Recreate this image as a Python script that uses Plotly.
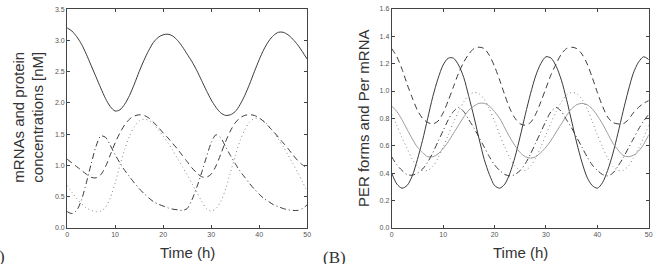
import plotly.graph_objects as go

t = list(range(0, 51))

# Panel A: mRNAs and protein concentrations [nM]
a_solid = [3.20, 3.15, 3.06, 2.94, 2.78, 2.60, 2.42, 2.24, 2.07, 1.94,
           1.87, 1.89, 1.98, 2.12, 2.30, 2.50, 2.68, 2.84, 2.97, 3.05,
           3.09, 3.10, 3.07, 3.00, 2.90, 2.78, 2.66, 2.52, 2.36, 2.20,
           2.05, 1.93, 1.84, 1.80, 1.81, 1.86, 1.97, 2.12, 2.30, 2.50,
           2.69, 2.86, 2.99, 3.08, 3.13, 3.13, 3.09, 3.02, 2.93, 2.82, 2.70]
a_dash = [1.10, 1.04, 0.98, 0.92, 0.86, 0.81, 0.80, 0.85, 0.98, 1.17,
          1.36, 1.52, 1.65, 1.74, 1.79, 1.81, 1.80, 1.76, 1.69, 1.61,
          1.52, 1.44, 1.35, 1.26, 1.16, 1.06, 0.96, 0.88, 0.82, 0.81,
          0.86, 0.99, 1.18, 1.38, 1.55, 1.68, 1.76, 1.80, 1.81, 1.80,
          1.76, 1.70, 1.62, 1.54, 1.45, 1.36, 1.27, 1.17, 1.08, 1.01, 0.96]
a_dashdot = [0.26, 0.23, 0.28, 0.45, 0.72, 1.02, 1.30, 1.47, 1.45, 1.32,
             1.17, 1.04, 0.92, 0.82, 0.72, 0.63, 0.55, 0.48, 0.42, 0.38,
             0.35, 0.32, 0.30, 0.29, 0.28, 0.31, 0.45, 0.65, 0.88, 1.13,
             1.36, 1.49, 1.44, 1.30, 1.16, 1.03, 0.91, 0.81, 0.71, 0.62,
             0.54, 0.47, 0.42, 0.37, 0.34, 0.31, 0.29, 0.28, 0.28, 0.31, 0.37]
a_dot = [0.68, 0.57, 0.47, 0.39, 0.32, 0.28, 0.26, 0.27, 0.33, 0.48,
         0.72, 1.00, 1.26, 1.47, 1.62, 1.71, 1.74, 1.72, 1.66, 1.57,
         1.47, 1.36, 1.24, 1.11, 0.98, 0.85, 0.71, 0.57, 0.43, 0.31,
         0.27, 0.31, 0.42, 0.62, 0.88, 1.15, 1.39, 1.57, 1.69, 1.75,
         1.75, 1.71, 1.63, 1.53, 1.42, 1.30, 1.17, 1.03, 0.89, 0.74, 0.58]

# Panel B: PER forms and Per mRNA
b_solid = [0.40, 0.32, 0.29, 0.31, 0.38, 0.50, 0.64, 0.80, 0.96, 1.09,
           1.19, 1.24, 1.24, 1.19, 1.10, 0.96, 0.81, 0.65, 0.50, 0.39,
           0.31, 0.29, 0.32, 0.40, 0.52, 0.67, 0.83, 0.98, 1.11, 1.20,
           1.25, 1.24, 1.18, 1.08, 0.94, 0.78, 0.62, 0.48, 0.37, 0.31,
           0.29, 0.33, 0.42, 0.54, 0.69, 0.85, 1.00, 1.13, 1.21, 1.25, 1.23]
b_dash = [1.31, 1.25, 1.16, 1.05, 0.95, 0.86, 0.80, 0.77, 0.76, 0.78,
          0.84, 0.93, 1.03, 1.13, 1.21, 1.27, 1.31, 1.32, 1.31, 1.26,
          1.18, 1.08, 0.97, 0.87, 0.80, 0.76, 0.75, 0.77, 0.83, 0.92,
          1.02, 1.12, 1.20, 1.27, 1.31, 1.32, 1.31, 1.27, 1.20, 1.10,
          0.99, 0.89, 0.81, 0.77, 0.76, 0.76, 0.79, 0.84, 0.88, 0.91, 0.93]
b_gray = [0.89, 0.85, 0.79, 0.72, 0.65, 0.59, 0.55, 0.52, 0.52, 0.54,
          0.58, 0.63, 0.69, 0.75, 0.81, 0.86, 0.89, 0.91, 0.91, 0.89,
          0.85, 0.80, 0.73, 0.66, 0.60, 0.55, 0.52, 0.51, 0.52, 0.55,
          0.59, 0.64, 0.70, 0.76, 0.82, 0.87, 0.90, 0.91, 0.90, 0.87,
          0.82, 0.76, 0.69, 0.62, 0.57, 0.53, 0.52, 0.53, 0.56, 0.61, 0.68]
b_dashdot = [0.52, 0.46, 0.42, 0.39, 0.385, 0.40, 0.43, 0.48, 0.55, 0.63,
             0.71, 0.79, 0.85, 0.88, 0.85, 0.79, 0.73, 0.66, 0.59, 0.52,
             0.46, 0.42, 0.39, 0.38, 0.39, 0.42, 0.47, 0.54, 0.62, 0.70,
             0.78, 0.85, 0.88, 0.85, 0.79, 0.73, 0.66, 0.59, 0.52, 0.46,
             0.42, 0.39, 0.38, 0.40, 0.45, 0.51, 0.58, 0.65, 0.72, 0.78, 0.83]
b_dot = [0.83, 0.75, 0.66, 0.58, 0.50, 0.45, 0.42, 0.42, 0.45, 0.51,
         0.59, 0.68, 0.77, 0.85, 0.92, 0.97, 0.99, 0.98, 0.94, 0.87,
         0.78, 0.68, 0.59, 0.51, 0.45, 0.42, 0.42, 0.45, 0.51, 0.59,
         0.68, 0.77, 0.85, 0.92, 0.97, 0.99, 0.98, 0.94, 0.87, 0.78,
         0.68, 0.59, 0.51, 0.45, 0.42, 0.42, 0.45, 0.51, 0.58, 0.66, 0.75]

a_yticks = [0.0, 0.5, 1.0, 1.5, 2.0, 2.5, 3.0, 3.5]
b_yticks = [0.0, 0.2, 0.4, 0.6, 0.8, 1.0, 1.2, 1.4, 1.6]
x_ticks = [0, 10, 20, 30, 40, 50]

DARK = "#3a3a3a"
GRAY = "#9a9a9a"

fig = go.Figure()


def add(x, y, xa, ya, color, dash, width=1.0):
    fig.add_trace(go.Scatter(x=x, y=y, xaxis=xa, yaxis=ya, mode="lines",
                             line=dict(color=color, width=width, dash=dash, shape="spline", smoothing=0.8),
                             showlegend=False, hoverinfo="skip"))


add(t, a_solid, "x", "y", DARK, "solid")
add(t, a_dash, "x", "y", DARK, "6px,4px")
add(t, a_dashdot, "x", "y", DARK, "6px,3px,1px,3px")
add(t, a_dot, "x", "y", "#888888", "1px,3px")

add(t, b_solid, "x2", "y2", DARK, "solid")
add(t, b_dash, "x2", "y2", DARK, "6px,4px")
add(t, b_gray, "x2", "y2", GRAY, "solid")
add(t, b_dashdot, "x2", "y2", DARK, "6px,3px,1px,3px")
add(t, b_dot, "x2", "y2", "#888888", "1px,3px")

axis_common = dict(showgrid=False, zeroline=False, showline=True, linecolor="#444444", linewidth=1,
                   mirror="ticks", ticks="inside", ticklen=3, tickcolor="#444444",
                   tickfont=dict(family="Liberation Sans, Arial", size=7, color="#555555"))

fig.update_layout(
    width=658, height=264, margin=dict(l=0, r=0, t=0, b=0),
    paper_bgcolor="white", plot_bgcolor="white",
    xaxis=dict(domain=[65.7 / 658, 308 / 658], range=[0, 50], tickvals=x_ticks, anchor="y", **axis_common),
    yaxis=dict(domain=[34 / 264, 258.7 / 264], range=[0, 3.5], tickvals=a_yticks,
               ticktext=[f"{v:.1f}" for v in a_yticks], anchor="x", **axis_common),
    xaxis2=dict(domain=[393.3 / 658, 652.7 / 658], range=[0, 50], tickvals=x_ticks, anchor="y2", **axis_common),
    yaxis2=dict(domain=[34 / 264, 259 / 264], range=[0, 1.6], tickvals=b_yticks,
                ticktext=[f"{v:.1f}" for v in b_yticks], anchor="x2", **axis_common),
)

title_font = dict(family="Liberation Sans, Arial", size=15, color="#333333")
ann = [
    dict(text="Time (h)", x=187 / 658, y=(264 - 255) / 264, xanchor="center", yanchor="middle", font=title_font),
    dict(text="Time (h)", x=523 / 658, y=(264 - 255) / 264, xanchor="center", yanchor="middle", font=title_font),
    dict(text="mRNAs and protein<br>concentrations [nM]", x=27 / 658, y=(264 - 116) / 264, textangle=-90,
         xanchor="center", yanchor="middle", font=title_font),
    dict(text="PER forms and Per mRNA", x=365 / 658, y=(264 - 117.5) / 264, textangle=-90,
         xanchor="center", yanchor="middle", font=title_font),
    dict(text="(A)", x=5 / 658, y=(264 - 259) / 264, xanchor="right", yanchor="middle",
         font=dict(family="Liberation Serif, Times New Roman", size=17, color="#333333")),
    dict(text="(B)", x=322 / 658, y=(264 - 260) / 264, xanchor="left", yanchor="middle",
         font=dict(family="Liberation Serif, Times New Roman", size=17, color="#333333")),
]
for a in ann:
    a.update(xref="paper", yref="paper", showarrow=False)
fig.update_layout(annotations=ann)

fig.write_html("out.html")
